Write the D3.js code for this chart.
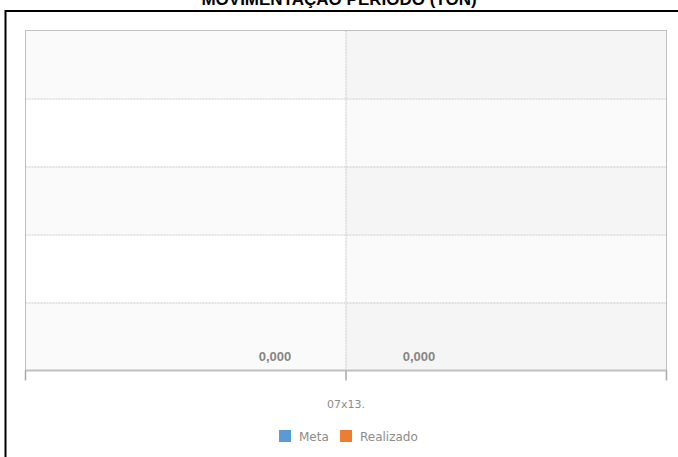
<!DOCTYPE html>
<html>
<head>
<meta charset="utf-8">
<script src="https://cdn.jsdelivr.net/npm/d3@7"></script>
<style>
  html, body { margin: 0; padding: 0; background: #fff; overflow: hidden; }
  svg { display: block; }
</style>
</head>
<body>
<svg id="chart" width="678" height="457"></svg>
<script>
// ---- data ----
const title = "MOVIMENTAÇÃO PERÍODO (TON)";
const categories = ["07x13."];
const seriesNames = ["Meta", "Realizado"];
const seriesColors = ["#5b9bd5", "#ed7d31"];
const metaValues = [0];
const realizadoValues = [0];
const yTicks = [0, 1, 2, 3, 4, 5];

const svg = d3.select("#chart");
const W = 678, H = 457;
const m = { left: 25.5, right: 678 - 666.5, top: 30.5, bottom: 457 - 370.5 };
const pw = W - m.left - m.right, ph = H - m.top - m.bottom;

// outer frame
svg.append("rect").attr("x", 5.5).attr("y", 11).attr("width", 800).attr("height", 600)
  .attr("fill", "#fff").attr("stroke", "#000").attr("stroke-width", 2);

// title (cut off at top)
svg.append("text").attr("x", 339).attr("y", 5).attr("text-anchor", "middle")
  .attr("font-family", "Liberation Sans, Arial, sans-serif").attr("font-weight", "bold")
  .attr("font-size", 17).attr("fill", "#000").text(title);

const g = svg.append("g").attr("transform", `translate(${m.left},${m.top})`);

const x0 = d3.scaleBand().domain(categories).range([0, pw]).padding(0);
const x1 = d3.scaleBand().domain(seriesNames)
  .range([x0.bandwidth() / 2 - 143, x0.bandwidth() / 2 + 145]).padding(0);
const y = d3.scaleLinear().domain([0, 5]).range([ph, 0]);

// horizontal alternate bands
for (let i = 0; i < yTicks.length - 1; i++) {
  if (i % 2 === 0) {
    g.append("rect").attr("x", 0).attr("width", pw)
      .attr("y", y(yTicks[i + 1])).attr("height", y(yTicks[i]) - y(yTicks[i + 1]))
      .attr("fill", "#000").attr("fill-opacity", 0.02);
  }
}
// vertical alternate band (right half)
g.append("rect").attr("x", x0(categories[0]) + x0.bandwidth() / 2).attr("y", 0)
  .attr("width", x0.bandwidth() / 2).attr("height", ph)
  .attr("fill", "#000").attr("fill-opacity", 0.02);

// horizontal gridlines
g.append("g").selectAll("line").data(yTicks.slice(1, -1)).join("line")
  .attr("x1", 0).attr("x2", pw).attr("y1", d => Math.round(y(d)) + 0.5).attr("y2", d => Math.round(y(d)) + 0.5)
  .attr("stroke", "#c8c8c8").attr("stroke-dasharray", "2,1");
// vertical gridline at category center
g.append("line").attr("x1", x0(categories[0]) + x0.bandwidth() / 2).attr("x2", x0(categories[0]) + x0.bandwidth() / 2)
  .attr("y1", 0).attr("y2", ph).attr("stroke", "#c8c8c8").attr("stroke-dasharray", "2,1");

// plot border
g.append("rect").attr("x", 0).attr("y", 0).attr("width", pw).attr("height", ph)
  .attr("fill", "none").attr("stroke", "#c0c0c0");

// bars (zero height)
const data = categories.map((c, i) => ({ c, vals: [metaValues[i], realizadoValues[i]] }));
const cg = g.selectAll(".cat").data(data).join("g").attr("transform", d => `translate(${x0(d.c)},0)`);
cg.selectAll("rect.bar").data(d => d.vals.map((v, j) => ({ v, s: seriesNames[j], col: seriesColors[j] })))
  .join("rect").attr("class", "bar")
  .attr("x", d => x1(d.s) + x1.bandwidth() * 0.25).attr("width", x1.bandwidth() * 0.5)
  .attr("y", d => y(d.v)).attr("height", d => ph - y(d.v)).attr("fill", d => d.col);
cg.selectAll("text.lbl").data(d => d.vals.map((v, j) => ({ v, s: seriesNames[j] })))
  .join("text").attr("class", "lbl")
  .attr("x", d => x1(d.s) + x1.bandwidth() / 2).attr("y", d => y(d.v) - 9.5)
  .attr("text-anchor", "middle").attr("font-family", "Liberation Sans, Arial, sans-serif")
  .attr("font-weight", "bold").attr("font-size", 13).attr("fill", "#868686")
  .text(d => d3.format(".3f")(d.v).replace(".", ","));

// x axis
const xAxis = g.append("g").attr("transform", `translate(0,${ph})`);
xAxis.append("line").attr("x1", 0).attr("x2", pw).attr("y1", 0).attr("y2", 0)
  .attr("stroke", "#c0c0c0").attr("stroke-width", 2);
const tickXs = [0, x0.bandwidth() / 2, pw];
xAxis.selectAll("line.tick").data(tickXs).join("line").attr("class", "tick")
  .attr("x1", d => d).attr("x2", d => d).attr("y1", 0).attr("y2", 10)
  .attr("stroke", "#a8a8a8").attr("stroke-width", 1.5);
xAxis.selectAll("text").data(categories).join("text")
  .attr("x", d => x0(d) + x0.bandwidth() / 2).attr("y", 37)
  .attr("text-anchor", "middle").attr("font-family", "DejaVu Sans, sans-serif")
  .attr("font-size", 11).attr("fill", "#8c8c8c").text(d => d);

// legend
const legend = svg.append("g");
const items = [{ n: seriesNames[0], c: seriesColors[0], x: 279 }, { n: seriesNames[1], c: seriesColors[1], x: 340 }];
items.forEach(it => {
  legend.append("rect").attr("x", it.x).attr("y", 430).attr("width", 12).attr("height", 12).attr("fill", it.c);
  legend.append("text").attr("x", it.x + 20).attr("y", 440.5).attr("font-family", "DejaVu Sans, sans-serif")
    .attr("font-size", 12).attr("fill", "#8c8c8c").text(it.n);
});
</script>
</body>
</html>
